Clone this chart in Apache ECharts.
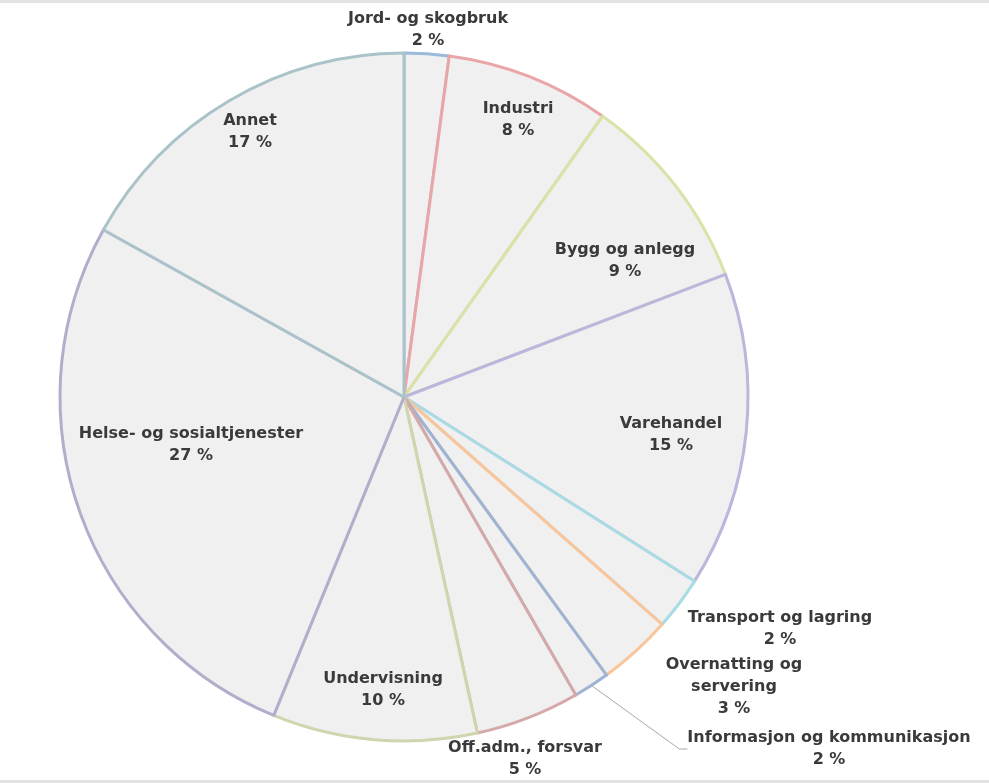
<!DOCTYPE html>
<html>
<head>
<meta charset="utf-8">
<script src="https://cdn.jsdelivr.net/npm/echarts@6/dist/echarts.min.js"></script>
<style>
html,body{margin:0;padding:0;background:#fff;}
#chart{width:989px;height:783px;box-sizing:border-box;border-top:3px solid #e2e2e2;border-bottom:3px solid #e2e2e2;}
</style>
</head>
<body>
<div id="chart"></div>
<script>
// Data
var categories = ['Jord- og skogbruk','Industri','Bygg og anlegg','Varehandel','Transport og lagring','Overnatting og\nservering','Informasjon og kommunikasjon','Off.adm., forsvar','Undervisning','Helse- og sosialtjenester','Annet'];
var values = [2.1, 7.7, 9.4, 14.8, 2.49, 3.49, 1.7, 4.9, 9.6, 26.9, 16.92];

// Styling (not data)
var borderColors = ['#9db9da','#eaa6a6','#dbe2a6','#bdb5db','#a9dbe4','#f8c69a','#9fb3d2','#d6a9a9','#cfd5ac','#b3adcb','#a9c3c9'];
// label centre positions relative to pie centre (px)
var CX = 404, CY = 394, R = 344;
var labelOffsets = [
  [24, -367], [114, -277], [221, -136], [267, 38], [376, 232], [330, 290], [425, 352], [121, 362], [-21, 293], [-213, 48], [-154, -265]
];

var chart = echarts.init(document.getElementById('chart'));
var data = categories.map(function(c, i){
  return {
    name: c, value: values[i],
    itemStyle: {color: '#f0f0f1', borderColor: borderColors[i], borderWidth: 3},
    labelLine: {show: i === 6, lineStyle: {color: '#a8a8a8', width: 1}, length: 40, length2: 8}
  };
});

chart.setOption({
  backgroundColor: '#ffffff',
  animation: false,
  series: [{
    type: 'pie',
    center: [CX, CY],
    radius: R,
    startAngle: 90,
    clockwise: true,
    avoidLabelOverlap: false,
    data: data,
    label: {
      show: true,
      position: 'outside',
      formatter: function(p){ return p.name + '\n' + Math.round(p.percent) + ' %'; },
      fontFamily: 'DejaVu Sans',
      fontWeight: 'bold',
      fontSize: 16,
      lineHeight: 22,
      color: '#3a3a3a',
      align: 'center'
    },
    labelLine: {show: false},
    labelLayout: function(p){
      var o = labelOffsets[p.dataIndex];
      return {x: CX + o[0], y: CY + o[1], align: 'center', verticalAlign: 'middle'};
    },
    emphasis: {disabled: true}
  }]
});
</script>
</body>
</html>
